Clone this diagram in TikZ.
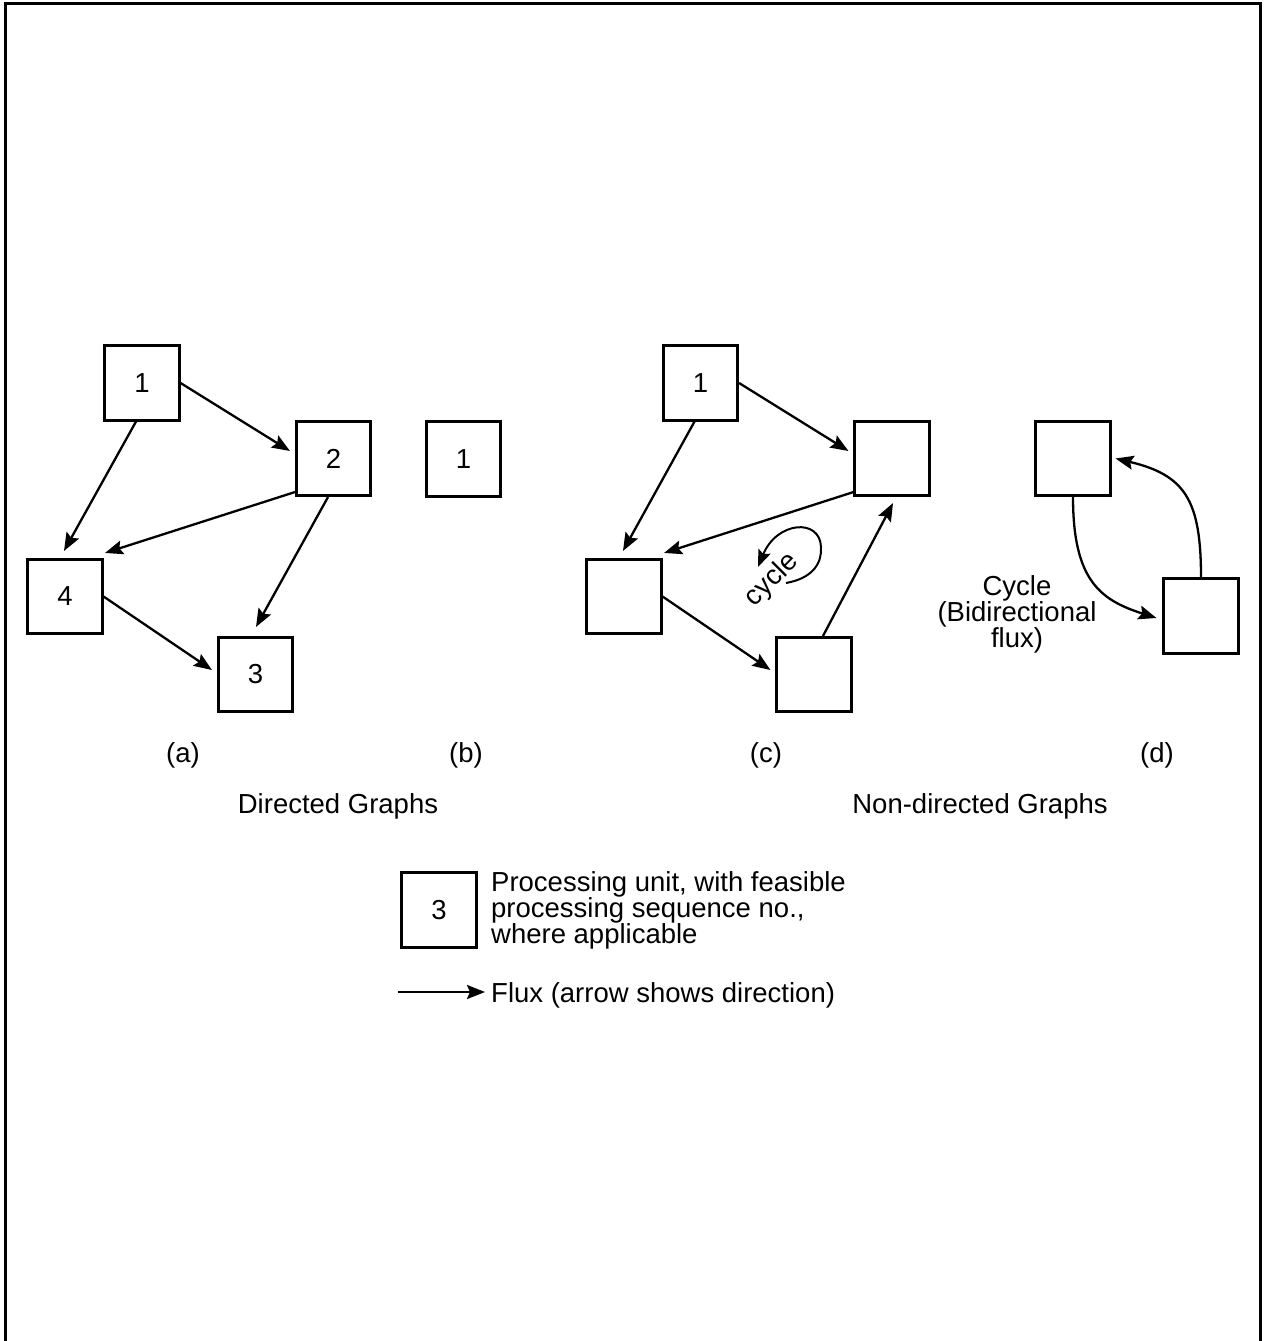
\documentclass[tikz,border=0pt]{standalone}
\usepackage{fontspec}
\setmainfont{Liberation Sans}
\usetikzlibrary{arrows.meta,calc}
\begin{document}
\begin{tikzpicture}[x=1pt,y=-1pt,
  every node/.style={font=\fontsize{27.5}{26}\selectfont},
  unit/.style={draw, line width=2.6pt, minimum size=74.5pt, inner sep=0pt},
  flux/.style={line width=2.3pt, -{Stealth[length=18pt,width=14pt,inset=3pt]}},
  lbl/.style={anchor=base, inner sep=0pt}]
\useasboundingbox (0,0) rectangle (1265,1341);
% frame
\draw[line width=3.5pt] (5.3,1341) -- (5.3,3.5) -- (1260.7,3.5) -- (1260.7,1341);

% (a)
\node[unit] (a1) at (142,383) {1};
\node[unit] (a2) at (333.5,458.5) {2};
\node[unit] (a4) at (65,596.5) {4};
\node[unit] (a3) at (255.5,674.5) {3};
\draw[flux] (a1.east) -- ($(a2.west)+(-5,-7.5)$);
\draw[flux] ($(a1.south)+(-6,0)$) -- ($(a4.north)+(-1,-7)$);
\draw[flux] ($(a2.south west)+(0,-5)$) -- ($(a4.north east)+(1.5,-5)$);
\draw[flux] ($(a2.south)+(-5.5,0)$) -- ($(a3.north)+(0.5,-9)$);
\draw[flux] (a4.east) -- ($(a3.west)+(-5,-4.5)$);

% (b)
\node[unit] (b1) at (463.5,459) {1};

% (c)
\node[unit] (c1) at (700.5,383) {1};
\node[unit] (c2) at (892,458.5) {};
\node[unit] (c4) at (624,596.5) {};
\node[unit] (c3) at (814,674.5) {};
\draw[flux] (c1.east) -- ($(c2.west)+(-5,-7.5)$);
\draw[flux] ($(c1.south)+(-6,0)$) -- ($(c4.north)+(-1,-7)$);
\draw[flux] ($(c2.south west)+(0,-5)$) -- ($(c4.north east)+(1.5,-5)$);
\draw[flux] (c4.east) -- ($(c3.west)+(-5,-4.5)$);
\draw[flux] ($(c3.north)+(9,0)$) -- ($(c2.south)+(1,6)$);
\node[rotate=45, inner sep=0pt] (cyc) at (772,580) {cycle};
\coordinate (cycS) at (786,583);
\coordinate (cycM) at (821,547);
\coordinate (cycE) at (758,567);
\draw[line width=2pt, -{Stealth[length=17pt,width=13pt,inset=3pt]}] (cycS) .. controls (814,578) and (822,562) .. (cycM)
  .. controls (820,518) and (777,521) .. (cycE);

% (d)
\node[unit] (d1) at (1073,458.5) {};
\node[unit] (d2) at (1201,616) {};
\draw[flux] (d1.south) .. controls (1073,580) and (1100,600) .. ($(d2.west)+(-6,2)$);
\draw[flux] (d2.north) .. controls (1201,500) and (1185,475) .. ($(d1.east)+(4,0)$);
\node[align=center, inner sep=0pt] (cyctxt) at (1017,614) {Cycle\\(Bidirectional\\flux)};

% labels
\node[lbl] (la) at (183,762) {(a)};
\node[lbl] (lb) at (466,762) {(b)};
\node[lbl] (lc) at (766,762) {(c)};
\node[lbl] (ld) at (1157,762) {(d)};
\node[lbl] (dirg) at (338,813) {Directed Graphs};
\node[lbl] (ndirg) at (980,813) {Non-directed Graphs};

% legend
\node[unit] (leg) at (439,910) {3};
\node[anchor=west, align=left, inner sep=0pt] (legtxt) at (491,910)
  {Processing unit, with feasible\\processing sequence no.,\\where applicable};
\coordinate (legA) at (398,992);
\coordinate (legB) at (485,992);
\draw[flux] (legA) -- (legB);
\node[anchor=base west, inner sep=0pt] (fluxtxt) at (491,1002) {Flux (arrow shows direction)};
\end{tikzpicture}
\end{document}
